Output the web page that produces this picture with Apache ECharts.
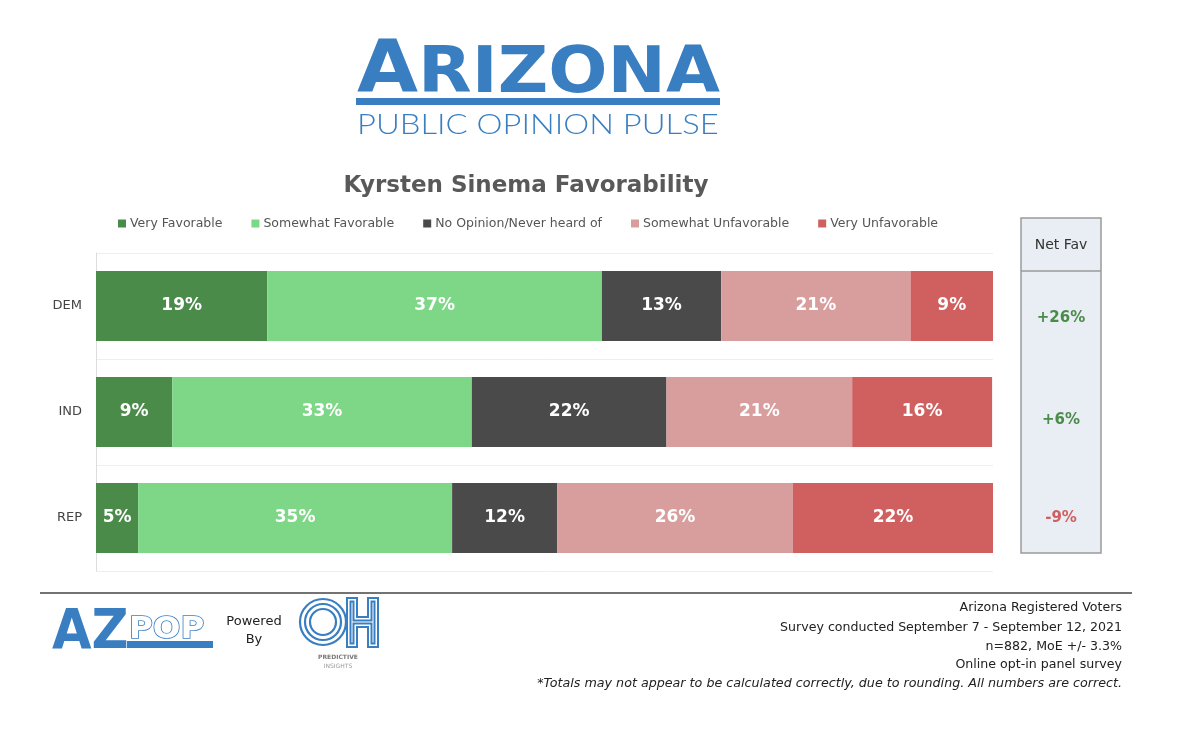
<!DOCTYPE html>
<html>
<head>
<meta charset="utf-8">
<script src="https://cdn.jsdelivr.net/npm/echarts@6/dist/echarts.min.js"></script>
<style>
html,body{margin:0;padding:0;background:#fff;}
#chart{width:1200px;height:730px;}
</style>
</head>
<body>
<div id="chart"></div>
<script>
// ---- data ----
const categories = ['DEM', 'IND', 'REP'];
const seriesNames = ['Very Favorable', 'Somewhat Favorable', 'No Opinion/Never heard of', 'Somewhat Unfavorable', 'Very Unfavorable'];
const veryFavorable = [19.1, 8.5, 4.7];
const somewhatFavorable = [37.3, 33.4, 35.0];
const noOpinion = [13.3, 21.7, 11.7];
const somewhatUnfavorable = [21.1, 20.7, 26.3];
const veryUnfavorable = [9.2, 15.6, 22.3];
const netFav = ['+26%', '+6%', '-9%'];
const footerLines = ['Arizona Registered Voters', 'Survey conducted September 7 - September 12, 2021', 'n=882, MoE +/- 3.3%', 'Online opt-in panel survey'];
const footerNote = '*Totals may not appear to be calculated correctly, due to rounding. All numbers are correct.';

const colors = ['#4a8b4a', '#7dd787', '#4a4a4a', '#d89e9e', '#d06060'];
const values = [veryFavorable, somewhatFavorable, noOpinion, somewhatUnfavorable, veryUnfavorable];
const blue = '#3a7ec2';
const FONT = 'DejaVu Sans';

const chart = echarts.init(document.getElementById('chart'));

const series = seriesNames.map((name, i) => ({
  name: name,
  type: 'bar',
  stack: 'total',
  barWidth: 70,
  itemStyle: { color: colors[i] },
  label: {
    show: true,
    position: 'inside',
    color: '#fff',
    fontFamily: FONT,
    fontWeight: 'bold',
    fontSize: 17,
    formatter: p => Math.round(p.value) + '%'
  },
  emphasis: { disabled: true },
  data: values[i]
}));

const graphics = [];
// Logo
graphics.push({ type: 'text', x: 357, y: 37, style: { text: 'A', font: 'bold 73px "' + FONT + '"', fill: blue, verticalAlign: 'top' }, scaleX: 1.08 });
graphics.push({ type: 'text', x: 418, y: 43.5, style: { text: 'RIZONA', font: 'bold 64px "' + FONT + '"', fill: blue, verticalAlign: 'top' }, scaleX: 1.09 });
graphics.push({ type: 'rect', shape: { x: 356, y: 98, width: 364, height: 7 }, style: { fill: blue } });
graphics.push({ type: 'text', x: 357, y: 111, style: { text: 'PUBLIC OPINION PULSE', font: '300 28px Lato', fill: blue, verticalAlign: 'top' }, scaleX: 1.17 });
// Title
graphics.push({ type: 'text', x: 526, y: 186, style: { text: 'Kyrsten Sinema Favorability', font: 'bold 23px "' + FONT + '"', fill: '#595959', align: 'center', verticalAlign: 'middle' } });
// Net Fav box
graphics.push({ type: 'rect', shape: { x: 1021, y: 218, width: 80, height: 335 }, style: { fill: '#e9edf4', stroke: '#9a9a9a', lineWidth: 1.5 } });
graphics.push({ type: 'line', shape: { x1: 1021, y1: 271, x2: 1101, y2: 271 }, style: { stroke: '#9a9a9a', lineWidth: 1.5 } });
graphics.push({ type: 'text', x: 1061, y: 245, style: { text: 'Net Fav', font: '14px "' + FONT + '"', fill: '#333', align: 'center', verticalAlign: 'middle' } });
const netY = [318, 420, 518];
netFav.forEach((t, i) => {
  graphics.push({ type: 'text', x: 1061, y: netY[i], style: { text: t, font: 'bold 15px "' + FONT + '"', fill: t.charAt(0) === '-' ? '#d06060' : '#4a8b4a', align: 'center', verticalAlign: 'middle' } });
});
// Footer line
graphics.push({ type: 'line', shape: { x1: 40, y1: 593, x2: 1132, y2: 593 }, style: { stroke: '#444', lineWidth: 1.5 } });
// Footer text
const fy = [608, 628, 647, 665];
footerLines.forEach((t, i) => {
  graphics.push({ type: 'text', x: 1122, y: fy[i], style: { text: t, font: '12.6px "' + FONT + '"', fill: '#222', align: 'right', verticalAlign: 'middle' } });
});
graphics.push({ type: 'text', x: 1122, y: 684, style: { text: footerNote, font: 'italic 12.7px "' + FONT + '"', fill: '#222', align: 'right', verticalAlign: 'middle' } });
// AZPOP logo
graphics.push({ type: 'text', x: 52, y: 606, style: { text: 'AZ', font: 'bold 55px "' + FONT + '"', fill: blue, verticalAlign: 'top' }, scaleX: 0.93 });
graphics.push({ type: 'rect', shape: { x: 127, y: 641, width: 86, height: 7 }, style: { fill: blue } });
graphics.push({ type: 'text', x: 129, y: 614, style: { text: 'POP', font: 'bold 31px "' + FONT + '"', fill: '#fff', stroke: blue, lineWidth: 1.6, verticalAlign: 'top' }, scaleX: 1.05 });
graphics.push({ type: 'text', x: 254, y: 622, style: { text: 'Powered', font: '13px "' + FONT + '"', fill: '#222', align: 'center', verticalAlign: 'middle' } });
graphics.push({ type: 'text', x: 254, y: 640, style: { text: 'By', font: '13px "' + FONT + '"', fill: '#222', align: 'center', verticalAlign: 'middle' } });
// OH logo
[23, 18, 13].forEach(r => {
  graphics.push({ type: 'circle', shape: { cx: 323, cy: 622, r: r }, style: { fill: null, stroke: blue, lineWidth: 2.2 } });
});
function hPoly(o) {
  return [[347 + o, 598 + o], [357 - o, 598 + o], [357 - o, 617 + o], [368 + o, 617 + o], [368 + o, 598 + o], [378 - o, 598 + o],
          [378 - o, 647 - o], [368 + o, 647 - o], [368 + o, 627 - o], [357 - o, 627 - o], [357 - o, 647 - o], [347 + o, 647 - o]];
}
[0, 3.5].forEach(o => {
  graphics.push({ type: 'polygon', shape: { points: hPoly(o) }, style: { fill: null, stroke: blue, lineWidth: 2 } });
});
graphics.push({ type: 'text', x: 338, y: 657, style: { text: 'PREDICTIVE', font: 'bold 6px "' + FONT + '"', fill: '#777', align: 'center', verticalAlign: 'middle' } });
graphics.push({ type: 'text', x: 338, y: 666, style: { text: 'INSIGHTS', font: '6px "' + FONT + '"', fill: '#999', align: 'center', verticalAlign: 'middle' } });

chart.setOption({
  backgroundColor: '#fff',
  animation: false,
  color: colors,
  legend: {
    data: seriesNames,
    left: 113,
    top: 212,
    icon: 'rect',
    itemWidth: 8,
    itemHeight: 8,
    itemGap: 29,
    textStyle: { color: '#555', fontFamily: FONT, fontSize: 12.5, padding: [0, 0, 0, -1] },
    selectedMode: false
  },
  grid: { left: 96, right: 207, top: 253, bottom: 159, containLabel: false },
  xAxis: { type: 'value', min: 0, max: 100, show: false },
  yAxis: {
    type: 'category',
    data: categories,
    inverse: true,
    axisLine: { show: true, lineStyle: { color: '#dddddd' } },
    axisTick: { show: false },
    axisLabel: { color: '#444', fontFamily: FONT, fontSize: 13, margin: 14 },
    splitLine: { show: true, lineStyle: { color: '#eeeeee' } }
  },
  series: series,
  graphic: graphics
});
</script>
</body>
</html>
